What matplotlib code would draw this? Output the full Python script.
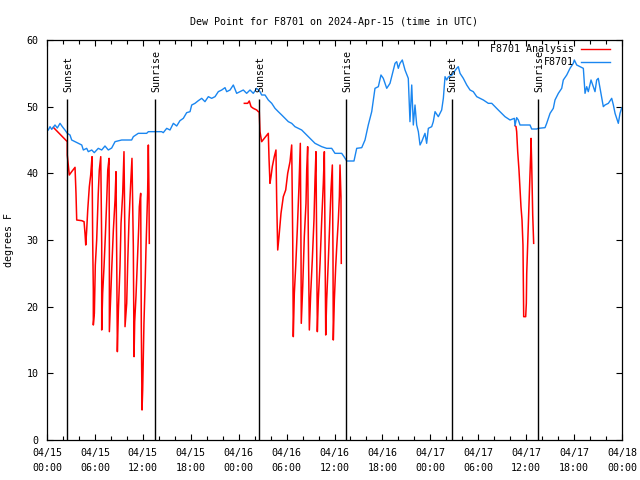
import numpy as np
import matplotlib
matplotlib.use("Agg")
import matplotlib.pyplot as plt
from matplotlib.ticker import MultipleLocator

# ------------------------------------------------------------------
# Data (hours since 2024-04-15 00:00 UTC, dew point in deg F)
# ------------------------------------------------------------------
obs_hours = [0.16, 0.38, 0.59, 1.0, 1.29, 1.63, 1.92, 2.25, 2.54, 2.88, 3.09, 3.51,
             3.92, 4.35, 4.55, 4.97, 5.17, 5.60, 5.92, 6.42, 6.85, 7.26, 7.68, 8.10,
             8.52, 9.35, 10.6, 10.81, 11.43, 12.48, 12.69, 14.36, 14.56, 14.99, 15.4,
             15.82, 16.24, 16.65, 17.07, 17.49, 17.91, 18.12, 18.53, 18.95, 19.37,
             19.78, 20.2, 20.62, 21.04, 21.45, 21.88, 22.29, 22.5, 22.92, 23.33, 23.75,
             24.17, 24.58, 25.0, 25.42, 25.83, 26.26, 26.67, 26.88, 27.3, 27.71, 28.14,
             28.55, 28.96, 29.39, 29.8, 30.22, 30.64, 31.05, 31.47, 31.89, 32.31, 32.72,
             33.15, 33.56, 33.97, 34.4, 35.02, 35.65, 36.06, 36.9, 37.19, 37.53, 38.44,
             38.78, 39.41, 39.82, 40.23, 40.66, 41.07, 41.49, 41.82, 42.11, 42.54, 42.95,
             43.58, 43.79, 43.99, 44.2, 44.49, 44.83, 45.24, 45.45, 45.67, 45.87, 46.08,
             46.29, 46.5, 46.71, 46.92, 47.33, 47.54, 47.75, 48.17, 48.37, 48.59, 49.0,
             49.42, 49.63, 49.84, 50.05, 50.25, 50.71, 51.3, 51.5, 51.72, 52.13, 52.56,
             52.97, 53.38, 53.81, 54.22, 54.64, 55.26, 55.69, 56.51, 57.35, 57.98, 58.52,
             58.6, 58.81, 59.02, 59.23, 60.48, 60.69, 61.32, 61.52, 62.36, 62.57, 62.99,
             63.4, 63.61, 64.03, 64.45, 64.65, 65.08, 65.49, 65.9, 66.03, 66.33, 66.74,
             67.16, 67.37, 67.58, 67.78, 68.12, 68.41, 68.62, 68.83, 69.03, 69.25, 69.66,
             69.87, 70.29, 70.71, 70.92, 71.13, 71.34, 71.54, 71.75, 71.96]
obs_dewpt = [46.5, 47.0, 46.6, 47.25, 46.8, 47.5, 47.0, 46.5, 46.0, 45.75, 45.0, 44.75,
             44.5, 44.25, 43.5, 43.75, 43.25, 43.5, 43.1, 43.75, 43.5, 44.1, 43.5, 43.8,
             44.75, 45.0, 45.0, 45.5, 46.0, 46.0, 46.25, 46.25, 46.1, 46.75, 46.5,
             47.5, 47.1, 47.9, 48.25, 49.1, 49.25, 50.25, 50.5, 50.9, 51.25,
             50.75, 51.5, 51.25, 51.5, 52.25, 52.5, 52.85, 52.25, 52.5, 53.25, 52.0,
             52.25, 52.5, 52.0, 52.5, 52.0, 52.75, 52.25, 51.75, 51.75, 51.0, 50.5,
             49.75, 49.25, 48.75, 48.25, 47.75, 47.5, 47.0, 46.75, 46.5, 46.0, 45.5,
             45.0, 44.5, 44.25, 44.0, 43.75, 43.75, 43.0, 43.0, 42.5, 41.85, 41.85,
             43.75, 43.85, 45.0, 47.25, 49.25, 52.75, 53.0, 54.75, 54.25, 52.75, 53.5,
             56.5, 56.75, 55.75, 56.5, 57.0, 55.5, 54.25, 47.75, 53.25, 47.25, 50.25,
             47.25, 46.25, 44.25, 44.75, 46.0, 44.5, 46.75, 47.0, 47.75, 49.25, 48.5,
             49.5, 51.25, 54.5, 54.0, 54.45, 54.75, 55.75, 56.0, 55.0, 54.25, 53.25,
             52.5, 52.25, 51.5, 51.25, 51.0, 50.5, 50.5, 49.5, 48.5, 48.0, 48.25,
             47.15, 48.35, 48.0, 47.25, 47.25, 46.65, 46.65, 46.75, 46.85, 47.5, 49.0,
             49.75, 51.0, 52.0, 52.75, 54.0, 54.75, 55.75, 56.5, 57.0, 56.25, 56.0,
             55.75, 52.0, 53.0, 52.25, 54.0, 53.0, 52.25, 54.0, 54.25, 52.75, 50.0,
             50.25, 50.5, 51.25, 50.25, 49.0, 48.25, 47.5, 49.0, 49.8]

# analysis series, three night-time pieces (gaps between them)
ana1_hours = [0.79, 2.54, 2.54, 2.67, 2.79, 3.09, 3.51, 3.63, 3.72, 4.35, 4.64, 4.76,
              4.85, 4.97, 5.1, 5.3, 5.47, 5.64, 5.72, 5.8, 5.8, 5.93, 6.05, 6.22, 6.42,
              6.55, 6.73, 6.85, 6.85, 6.97, 7.14, 7.31, 7.48, 7.61, 7.77, 7.81, 7.81,
              7.98, 8.1, 8.31, 8.52, 8.64, 8.73, 8.81, 8.94, 9.14, 9.27, 9.48, 9.64,
              9.77, 9.77, 9.98, 10.11, 10.27, 10.48, 10.64, 10.81, 10.9, 10.98, 11.14,
              11.31, 11.48, 11.56, 11.73, 11.81, 11.9, 11.98, 12.14, 12.31, 12.39, 12.6,
              12.69, 12.77, 12.81]
ana1_dewpt = [46.9, 44.75, 42.75, 41.25, 39.75, 40.25, 40.9, 37.0, 33.0, 32.9, 32.75, 31.0,
              29.25, 31.5, 34.5, 38.0, 39.75, 42.5, 30.0, 22.5, 17.25, 19.0, 26.25, 30.0, 37.0,
              40.5, 42.5, 29.5, 16.5, 22.0, 26.0, 30.75, 36.0, 40.5, 42.25, 29.0, 16.25,
              21.75, 25.5, 31.5, 36.0, 40.25, 27.25, 13.25, 19.5, 26.0, 32.5, 37.0, 43.25,
              28.5, 17.0, 20.5, 26.75, 33.0, 38.5, 42.25, 29.0, 12.5, 17.75, 21.5,
              26.5, 31.75, 35.0, 37.0, 17.0, 4.5, 7.5, 17.5, 24.5, 28.5, 37.0,
              44.25, 37.0, 29.5]
ana2_hours = [24.71, 25.13, 25.33, 25.55, 25.83, 26.26, 26.46, 26.58, 26.67, 26.88, 27.71,
              27.8, 27.92, 28.05, 28.21, 28.46, 28.67, 28.76, 28.89, 29.05, 29.3, 29.59,
              29.89, 30.14, 30.43, 30.64, 30.77, 30.84, 30.97, 31.14, 31.34, 31.55, 31.72,
              31.81, 31.84, 32.02, 32.22, 32.43, 32.52, 32.64, 32.72, 32.85, 33.02, 33.22,
              33.43, 33.56, 33.68, 33.77, 33.85, 33.97, 34.19, 34.4, 34.6, 34.73, 34.81,
              34.9, 35.02, 35.23, 35.44, 35.56, 35.73, 35.81, 35.85, 35.98, 36.15, 36.28,
              36.48, 36.61, 36.69, 36.81, 36.85]
ana2_dewpt = [50.5, 50.5, 50.85, 50.0, 49.75, 49.5, 49.25, 49.2, 46.25, 44.75, 46.0,
              42.25, 38.5, 39.5, 41.0, 42.5, 43.5, 36.0, 28.5, 30.5, 34.0, 36.5,
              37.5, 40.0, 41.75, 44.25, 30.0, 15.5, 22.0, 26.0, 31.5, 38.0, 44.5,
              27.5, 17.5, 23.0, 30.5, 35.5, 40.5, 44.0, 30.5, 16.5, 22.0, 27.0,
              33.0, 39.0, 43.25, 30.0, 16.25, 21.0, 26.5, 33.0, 38.5, 43.25, 29.5,
              15.75, 21.0, 27.0, 33.75, 37.5, 41.25, 28.0, 15.0, 21.0, 26.0, 29.0,
              33.0, 36.5, 41.25, 36.5, 26.5]
ana3_hours = [58.6, 58.73, 58.81, 58.94, 59.1, 59.23, 59.35, 59.48, 59.6, 59.69, 59.94,
              60.02, 60.07, 60.19, 60.32, 60.44, 60.57, 60.61, 60.69, 60.82, 60.94]
ana3_dewpt = [47.15, 47.0, 46.25, 43.25, 40.5, 37.75, 35.0, 33.0, 29.25, 18.5, 18.5,
              20.5, 25.0, 29.5, 34.0, 38.5, 43.0, 45.25, 41.5, 33.75, 29.5]

sun_hours = [2.54, 13.52, 26.59, 37.4, 50.67, 61.52]
sun_labels = ["Sunset", "Sunrise", "Sunset", "Sunrise", "Sunset", "Sunrise"]
sun_top = 51.15

xtick_hours = list(range(0, 73, 6))
xtick_labels = ["04/15\n00:00", "04/15\n06:00", "04/15\n12:00", "04/15\n18:00",
                "04/16\n00:00", "04/16\n06:00", "04/16\n12:00", "04/16\n18:00",
                "04/17\n00:00", "04/17\n06:00", "04/17\n12:00", "04/17\n18:00",
                "04/18\n00:00"]

RED = "#ff0000"
BLUE = "#1a86f0"
FONT = "DejaVu Sans Mono"
FS = 7.2

plt.rcParams["font.family"] = FONT
plt.rcParams["font.size"] = FS

fig = plt.figure(figsize=(6.4, 4.8), dpi=100)
ax = fig.add_axes([47 / 640, 40 / 480, 575 / 640, 400 / 480])

# analysis pieces joined with NaN gaps
ana_h = ana1_hours + [np.nan] + ana2_hours + [np.nan] + ana3_hours
ana_v = ana1_dewpt + [np.nan] + ana2_dewpt + [np.nan] + ana3_dewpt
ax.plot(ana_h, ana_v, color=RED, lw=1.1)
ax.plot(obs_hours, obs_dewpt, color=BLUE, lw=1.0)

# sunrise / sunset markers
ax.vlines(sun_hours, 0, sun_top, color="black", lw=1.0)
for h, lab in zip(sun_hours, sun_labels):
    ax.text(h + 0.15, sun_top + 1.0, lab, rotation=90, ha="center", va="bottom",
            fontsize=FS)

ax.set_xlim(0, 72)
ax.set_ylim(0, 60)
ax.set_xticks(xtick_hours)
ax.set_xticklabels(xtick_labels, linespacing=1.6)
ax.xaxis.set_minor_locator(MultipleLocator(2))
ax.yaxis.set_major_locator(MultipleLocator(10))
ax.tick_params(which="both", direction="in", top=True, right=True, width=0.8)
ax.tick_params(which="major", length=4)
ax.tick_params(which="minor", length=3)
ax.tick_params(axis="x", pad=6)
ax.tick_params(axis="y", pad=6)
for sp in ax.spines.values():
    sp.set_linewidth(0.9)

ax.set_ylabel("degrees F", labelpad=9)
ax.set_title("Dew Point for F8701 on 2024-Apr-15 (time in UTC)", fontsize=FS, pad=11)

# gnuplot-style key: right aligned text, sample line after it
key = [("F8701 Analysis", RED), ("F8701", BLUE)]
for i, (lab, col) in enumerate(key):
    y = 0.9775 - i * 0.0325
    ax.text(0.9165, y, lab, transform=ax.transAxes, ha="right", va="center")
    ax.plot([0.9287, 0.979], [y, y], color=col, lw=1.0, transform=ax.transAxes)

fig.savefig("out.png", dpi=100)
